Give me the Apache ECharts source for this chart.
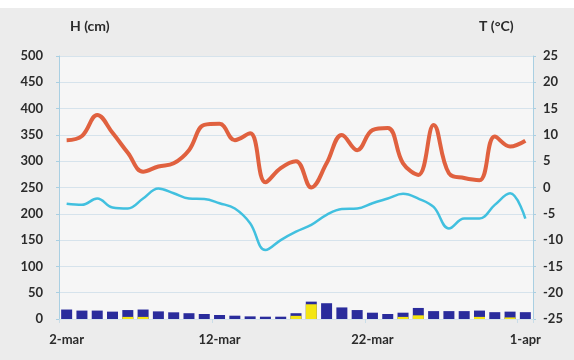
<!DOCTYPE html>
<html>
<head>
<meta charset="utf-8">
<script src="https://cdn.jsdelivr.net/npm/echarts@6/dist/echarts.min.js"></script>
<style>html,body{margin:0;padding:0;background:#fff}#c{width:574px;height:360px}</style>
</head>
<body>
<div id="c"></div>
<script>
var categories = ['2-mar','3-mar','4-mar','5-mar','6-mar','7-mar','8-mar','9-mar','10-mar','11-mar','12-mar','13-mar','14-mar','15-mar','16-mar','17-mar','18-mar','19-mar','20-mar','21-mar','22-mar','23-mar','24-mar','25-mar','26-mar','27-mar','28-mar','29-mar','30-mar','31-mar','1-apr'];
var tMax = [9.0,9.8,13.8,10.4,6.6,3.0,4.0,4.6,7.1,11.9,12.1,9.0,10.3,1.0,3.7,5.0,0.0,4.6,10.0,7.1,10.9,11.3,4.6,2.4,11.9,2.7,1.8,1.4,9.7,7.8,8.9];
var tMin = [-3.1,-3.3,-2.1,-3.8,-4.0,-2.1,-0.2,-1.1,-2.1,-2.2,-3.0,-4.0,-6.8,-11.9,-10.0,-8.4,-7.1,-5.2,-4.1,-4.0,-3.0,-2.1,-1.2,-2.1,-3.7,-7.8,-5.9,-5.9,-3.3,-1.1,-5.9];
var snowDepth = [18,16,16,14,17,18,14.5,12.7,11,9.5,7.6,6.3,5,4.4,4.4,11,33,30,22,17,12,9.5,12,21,15,15,15,16,13,14,13];
var newSnow = [0,0,0,0,4,4,0,0,0,0,0,0,0,0,0,6,28,0,0,0,0,0,4,7,0,0,0,4,0,3,0];
var leftTicks = {min:0, max:500, interval:50};
var rightTicks = {min:-25, max:25, interval:5};

var chart = echarts.init(document.getElementById('c'), null, {renderer:'canvas'});
var labelStyle = {color:'#2b2b2b', fontSize:13, fontWeight:'bold', fontFamily:'Lato'};
chart.setOption({
  animation:false,
  backgroundColor:'#ffffff',
  graphic:[
    {type:'rect', shape:{x:0,y:8,width:574,height:352}, style:{fill:'#ececec'}, z:-10},
    {type:'text', left:70, top:19, style:{text:'H (cm)', font:'bold 14px Lato', fill:'#2b2b2b'}},
    {type:'text', left:479, top:19, style:{text:'T (°C)', font:'bold 14px Lato', fill:'#2b2b2b'}}
  ],
  grid:{left:59, right:41, top:56, bottom:41, show:true, backgroundColor:'#f6f6f6', borderWidth:0},
  xAxis:{
    type:'category', data:categories, boundaryGap:true,
    axisLine:{show:false},
    axisTick:{show:true, length:4, lineStyle:{color:'#c9dde8'}},
    axisLabel:Object.assign({interval:9, margin:14}, labelStyle)
  },
  yAxis:[
    {type:'value', min:leftTicks.min, max:leftTicks.max, interval:leftTicks.interval, position:'left',
     axisLine:{show:true, lineStyle:{color:'#a9cfe2', width:1}},
     axisTick:{show:true, length:3, lineStyle:{color:'#a9cfe2'}},
     splitLine:{show:true, lineStyle:{color:'#d6e3ec', width:1}},
     axisLabel:Object.assign({margin:16}, labelStyle)},
    {type:'value', min:rightTicks.min, max:rightTicks.max, interval:rightTicks.interval, position:'right',
     axisLine:{show:true, lineStyle:{color:'#a9cfe2', width:1}},
     axisTick:{show:true, length:3, lineStyle:{color:'#a9cfe2'}},
     splitLine:{show:false},
     axisLabel:Object.assign({margin:10}, labelStyle)}
  ],
  series:[
    {type:'bar', yAxisIndex:0, data:snowDepth, barWidth:11, barGap:'-100%',
     itemStyle:{color:'#2a2c9c'}, z:2},
    {type:'bar', yAxisIndex:0, data:newSnow, barWidth:11, barGap:'-100%',
     itemStyle:{color:'#f4e512'}, z:3},
    {type:'line', yAxisIndex:1, data:tMax, smooth:0.4, showSymbol:false,
     lineStyle:{color:'#e0613f', width:4}, z:5},
    {type:'line', yAxisIndex:1, data:tMin, smooth:0.4, showSymbol:false,
     lineStyle:{color:'#41c0df', width:2.5}, z:5}
  ]
});
</script>
</body>
</html>
